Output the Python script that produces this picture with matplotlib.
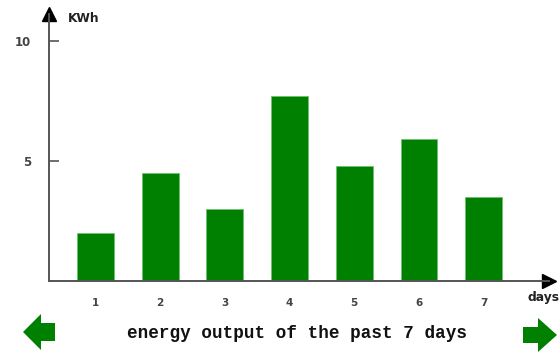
import matplotlib
matplotlib.use("Agg")
import matplotlib.pyplot as plt
from matplotlib.patches import Polygon

days = [1, 2, 3, 4, 5, 6, 7]
kwh = [2.0, 4.5, 3.0, 7.7, 4.8, 5.9, 3.5]
yticks = [5, 10]
title = "energy output of the past 7 days"

W, H = 560, 352
fig = plt.figure(figsize=(W / 100, H / 100), dpi=100)

# axes placement in pixels
left_px, right_px, top_px, base_px = 49, 549, 14, 281
ax = fig.add_axes([left_px / W, (H - base_px) / H,
                   (right_px - left_px) / W, (base_px - top_px) / H])

px_per_day = 64.7
x0_px = 95.5 - px_per_day  # pixel of x=0
px_per_unit = 24.0
ax.set_xlim((left_px - x0_px) / px_per_day, (right_px - x0_px) / px_per_day)
ax.set_ylim(0, (base_px - top_px) / px_per_unit)

ax.bar(days, kwh, width=0.57, color="#008000", edgecolor="#6fbf6f", linewidth=0.6)

for s in ["top", "right"]:
    ax.spines[s].set_visible(False)
for s in ["left", "bottom"]:
    ax.spines[s].set_color("#555555")
    ax.spines[s].set_linewidth(1.4)

ax.set_yticks(yticks)
ax.set_yticklabels([str(v) for v in yticks], fontsize=8.5, color="#444444", fontweight="bold")
ax.tick_params(axis="y", direction="in", length=7, width=1.2, color="#555555", pad=13)
ax.set_xticks(days)
ax.set_xticklabels([str(d) for d in days], fontsize=7.5, color="#444444", fontweight="bold")
ax.tick_params(axis="x", length=0, pad=12)

# arrow heads
ax.plot([0], [1], marker="^", color="black", markersize=10, transform=ax.transAxes, clip_on=False)
ax.plot([1], [0], marker=">", color="black", markersize=10, transform=ax.transAxes, clip_on=False)

fig.text(68 / W, 1 - 19 / H, "KWh", fontsize=8.8, fontweight="bold", color="#222222", va="center", ha="left")
fig.text(527 / W, 1 - 297 / H, "days", fontsize=8.8, fontweight="bold", color="#222222", va="center", ha="left")

fig.text(297 / W, 1 - 334 / H, title, fontsize=12.7, family="Liberation Mono",
         fontweight="bold", color="#111111", ha="center", va="center")

def figpoly(pts):
    p = Polygon([(x / W, 1 - y / H) for x, y in pts], closed=True,
                transform=fig.transFigure, facecolor="#008000", edgecolor="none")
    fig.patches.append(p)

figpoly([(23, 332), (41, 314), (41, 323), (55, 323), (55, 341), (41, 341), (41, 350)])
figpoly([(523, 327), (538, 327), (538, 318), (557, 335), (538, 352), (538, 343), (523, 343)])

fig.savefig("out.png", dpi=100)
